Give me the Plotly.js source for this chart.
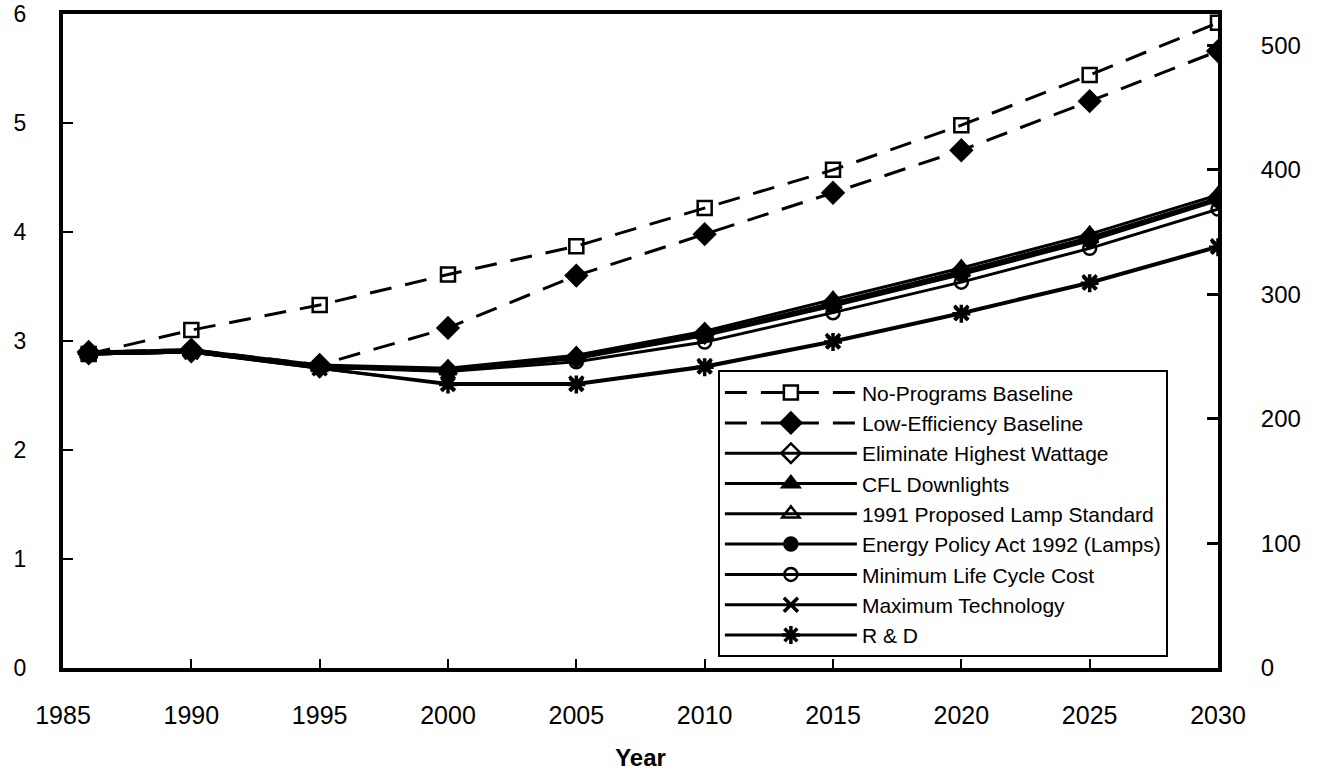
<!DOCTYPE html>
<html>
<head>
<meta charset="utf-8">
<script src="https://cdn.plot.ly/plotly-3.0.1.min.js"></script>
<style>html,body{margin:0;padding:0;background:#fff;}#chart{width:1321px;height:772px;}</style>
</head>
<body>
<div id="chart"></div>
<script>
// Years
const years = [1986, 1990, 1995, 2000, 2005, 2010, 2015, 2020, 2025, 2030];

// Series values (left axis units)
const noProgramsBaseline   = [2.88, 3.10, 3.33, 3.61, 3.87, 4.22, 4.57, 4.98, 5.44, 5.92];
const lowEfficiencyBaseline= [2.90, 2.92, 2.78, 3.12, 3.60, 3.98, 4.36, 4.75, 5.20, 5.66];
const eliminateHighestWatt = [2.88, 2.90, 2.76, 2.73, 2.85, 3.07, 3.35, 3.64, 3.95, 4.31];
const cflDownlights        = [2.90, 2.92, 2.78, 2.75, 2.87, 3.09, 3.38, 3.67, 3.98, 4.34];
const proposedLampStd1991  = [2.88, 2.90, 2.76, 2.73, 2.85, 3.06, 3.34, 3.63, 3.94, 4.30];
const epact1992Lamps       = [2.88, 2.90, 2.76, 2.73, 2.84, 3.05, 3.32, 3.61, 3.92, 4.29];
const minLifeCycleCost     = [2.88, 2.90, 2.76, 2.72, 2.81, 2.99, 3.26, 3.54, 3.85, 4.21];
const maximumTechnology    = [2.88, 2.90, 2.75, 2.61, 2.61, 2.77, 3.00, 3.26, 3.54, 3.87];
const rAndD                = [2.88, 2.90, 2.75, 2.60, 2.60, 2.76, 2.99, 3.25, 3.53, 3.86];

const seriesNames = [
  "No-Programs Baseline", "Low-Efficiency Baseline", "Eliminate Highest Wattage",
  "CFL Downlights", "1991 Proposed Lamp Standard", "Energy Policy Act 1992 (Lamps)",
  "Minimum Life Cycle Cost", "Maximum Technology", "R & D"
];
const seriesData = [noProgramsBaseline, lowEfficiencyBaseline, eliminateHighestWatt,
  cflDownlights, proposedLampStd1991, epact1992Lamps, minLifeCycleCost, maximumTechnology, rAndD];

const xTicks = [1985, 1990, 1995, 2000, 2005, 2010, 2015, 2020, 2025, 2030];
const yLeftTicks = [0, 1, 2, 3, 4, 5, 6];
const yRightTicks = [0, 100, 200, 300, 400, 500];

const symbols = ["square-open", "diamond", "diamond-open", "triangle-up", "triangle-up-open",
  "circle", "circle-open", "x-thin-open", "asterisk-open"];
const dashes = ["22px,14px", "22px,14px", "solid", "solid", "solid", "solid", "solid", "solid", "solid"];
const sizes = [14, 16, 15, 15, 15, 13, 13, 14, 15];

const traces = seriesNames.map((name, i) => ({
  x: years, y: seriesData[i], name: name, type: "scatter", mode: "lines+markers",
  line: {color: "#000", width: 3, dash: dashes[i]},
  marker: {symbol: symbols[i], size: sizes[i], color: "#000", line: {color: "#000", width: (symbols[i].indexOf("x-thin")===0||symbols[i].indexOf("asterisk")===0) ? 3.5 : 2.5}}
}));
// empty trace to anchor the right-hand axis
traces.push({x: [], y: [], yaxis: "y2", showlegend: false, hoverinfo: "skip", type: "scatter"});

const FAM = "Liberation Sans, Arial, sans-serif";
const font = {family: FAM, size: 24, color: "#000"};

const layout = {
  width: 1321, height: 772,
  margin: {l: 63, r: 103, t: 14, b: 104},
  paper_bgcolor: "#fff", plot_bgcolor: "#fff",
  font: font,
  showlegend: true,
  legend: {
    x: 0.567, y: 0.455, xanchor: "left", yanchor: "top",
    bgcolor: "#fff", bordercolor: "#000", borderwidth: 2,
    font: {family: FAM, size: 21, color: "#000"},
    itemwidth: 132, tracegroupgap: 0, traceorder: "normal"
  },
  xaxis: {
    range: [1985, 2030], tickvals: xTicks, ticktext: xTicks.map(String),
    showgrid: false, zeroline: false,
    showline: true, linecolor: "#000", linewidth: 4, mirror: true,
    ticks: "inside", ticklen: 9, tickwidth: 2, tickcolor: "#000",
    ticklabelstandoff: 22,
    tickfont: {family: FAM, size: 25, color: "#000"},
    title: {text: "<b>Year</b>", font: {family: FAM, size: 24, color: "#000"}, standoff: 22}
  },
  yaxis: {
    range: [0, 6], tickvals: yLeftTicks,
    showgrid: false, zeroline: false,
    showline: true, linecolor: "#000", linewidth: 4,
    ticks: "inside", ticklen: 10, tickwidth: 2, tickcolor: "#000",
    ticklabelstandoff: 28,
    tickfont: {family: FAM, size: 23, color: "#000"}
  },
  yaxis2: {
    overlaying: "y", side: "right", anchor: "x",
    range: [0, 525], tickvals: yRightTicks,
    showgrid: false, zeroline: false,
    showline: true, linecolor: "#000", linewidth: 4,
    ticks: "inside", ticklen: 11, tickwidth: 3, tickcolor: "#000",
    ticklabelstandoff: 34,
    tickfont: {family: FAM, size: 24, color: "#000"}
  }
};

Plotly.newPlot("chart", traces, layout, {displayModeBar: false, staticPlot: true});
</script>
</body>
</html>
